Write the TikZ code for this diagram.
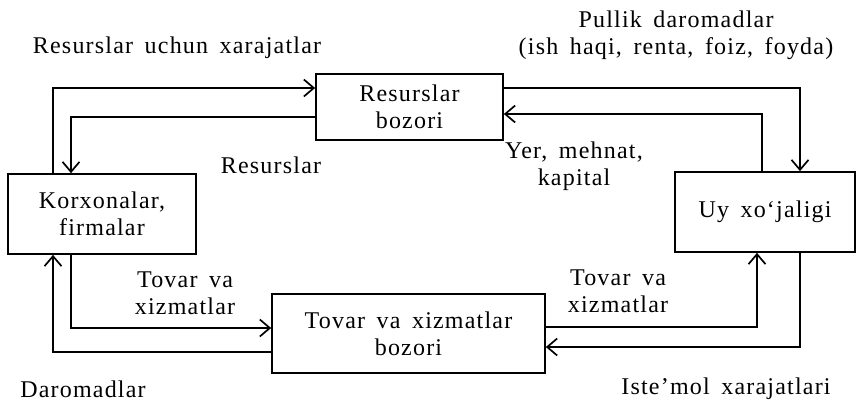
\documentclass[tikz,border=0pt]{standalone}
\usepackage{fontspec}
\setmainfont{Liberation Serif}[LetterSpace=5,WordSpace=1.6]
\usetikzlibrary{arrows.meta}
\begin{document}
\begin{tikzpicture}[x=1pt,y=-1pt,
  font=\fontsize{24}{27}\selectfont,
  box/.style={draw, line width=1.7pt, inner sep=0pt, align=center},
  flow/.style={line width=1.7pt, -{Straight Barb[length=10pt,width=17pt,line width=1.7pt]}},
  lbl/.style={align=center, inner sep=0pt}]
\useasboundingbox (0,0) rectangle (857,402);
% boxes
\node[box, minimum width=187pt, minimum height=66pt] (res) at (409.5,107) {Resurslar\\bozori};
\node[box, minimum width=188pt, minimum height=80pt] (korx) at (102,214) {Korxonalar,\\firmalar};
\node[box, minimum width=273pt, minimum height=79pt] (tov) at (408.5,333.5) {Tovar va xizmatlar\\bozori};
\node[box, minimum width=180pt, minimum height=80pt] (uy) at (765,212) {Uy xo‘jaligi};
% bend points
\coordinate (c1) at (53,88);
\coordinate (c2) at (71,117);
\coordinate (c3) at (800,88);
\coordinate (c4) at (762,114);
\coordinate (c5) at (71,328);
\coordinate (c6) at (53,352);
\coordinate (c7) at (757,327);
\coordinate (c8) at (800,347);
% connectors
\draw[flow] (korx.north -| c1) -- (c1) -- (res.west |- c1);
\draw[flow] (res.west |- c2) -- (c2) -- (korx.north -| c2);
\draw[flow] (res.east |- c3) -- (c3) -- (uy.north -| c3);
\draw[flow] (uy.north -| c4) -- (c4) -- (res.east |- c4);
\draw[flow] (korx.south -| c5) -- (c5) -- (tov.west |- c5);
\draw[flow] (tov.west |- c6) -- (c6) -- (korx.south -| c6);
\draw[flow] (tov.east |- c7) -- (c7) -- (uy.south -| c7);
\draw[flow] (uy.south -| c8) -- (c8) -- (tov.east |- c8);
% labels
\node[lbl] (l1) at (177,48) {Resurslar uchun xarajatlar};
\node[lbl] (l2) at (271,165) {Resurslar};
\node[lbl] (l3) at (676,35) {Pullik daromadlar\\(ish haqi, renta, foiz, foyda)};
\node[lbl] (l4) at (574,166) {Yer, mehnat,\\kapital};
\node[lbl] (l5) at (185,293) {Tovar va\\xizmatlar};
\node[lbl] (l6) at (618,291) {Tovar va\\xizmatlar};
\node[lbl] (l7) at (83,389) {Daromadlar};
\node[lbl] (l8) at (726,389) {Iste’mol xarajatlari};
\end{tikzpicture}
\end{document}
